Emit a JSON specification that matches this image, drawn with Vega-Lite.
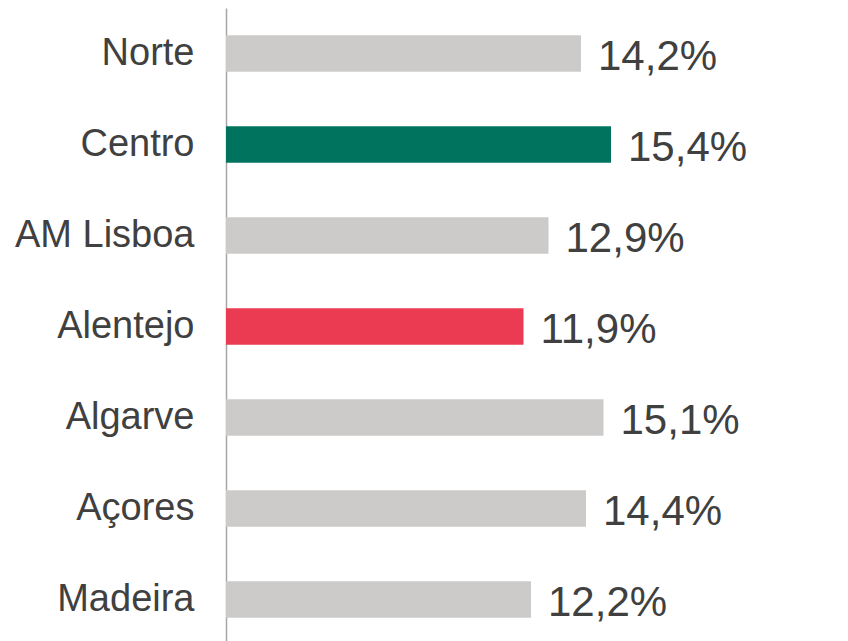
{
  "$schema": "https://vega.github.io/schema/vega-lite/v6.json",
  "autosize": "none",
  "width": 622,
  "height": 637,
  "padding": {"left": 226, "top": 8, "right": 0, "bottom": 0},
  "background": "white",
  "config": {"view": {"stroke": null}, "font": "Liberation Sans"},
  "data": {
    "values": [
      {"regiao": "Norte", "valor": 14.2, "rotulo": "14,2%"},
      {"regiao": "Centro", "valor": 15.4, "rotulo": "15,4%"},
      {"regiao": "AM Lisboa", "valor": 12.9, "rotulo": "12,9%"},
      {"regiao": "Alentejo", "valor": 11.9, "rotulo": "11,9%"},
      {"regiao": "Algarve", "valor": 15.1, "rotulo": "15,1%"},
      {"regiao": "Açores", "valor": 14.4, "rotulo": "14,4%"},
      {"regiao": "Madeira", "valor": 12.2, "rotulo": "12,2%"}
    ]
  },
  "encoding": {
    "y": {
      "field": "regiao",
      "type": "nominal",
      "sort": null,
      "scale": {"paddingInner": 0.6, "paddingOuter": 0.3},
      "axis": {
        "title": null,
        "ticks": false,
        "labelFontSize": 38,
        "labelColor": "#404040",
        "labelFont": "Liberation Sans",
        "labelPadding": 32,
        "domainColor": "#A6A6A6",
        "domainWidth": 1.5,
        "grid": false
      }
    },
    "x": {
      "field": "valor",
      "type": "quantitative",
      "scale": {"domain": [0, 24.88], "nice": false, "zero": true},
      "axis": null
    }
  },
  "layer": [
    {
      "mark": {"type": "bar"},
      "encoding": {
        "color": {
          "field": "regiao",
          "type": "nominal",
          "scale": {
            "domain": ["Norte", "Centro", "AM Lisboa", "Alentejo", "Algarve", "Açores", "Madeira"],
            "range": ["#CCCBC9", "#00735F", "#CCCBC9", "#EB3B52", "#CCCBC9", "#CCCBC9", "#CCCBC9"]
          },
          "legend": null
        }
      }
    },
    {
      "mark": {"type": "text", "align": "left", "baseline": "middle", "dx": 17, "dy": 3, "fontSize": 42, "color": "#404040", "font": "Liberation Sans"},
      "encoding": {"text": {"field": "rotulo"}}
    }
  ]
}
